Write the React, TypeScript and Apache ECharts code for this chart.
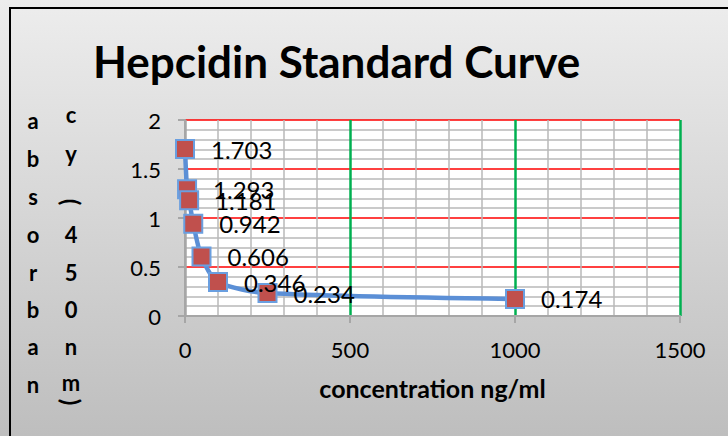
import React, { useEffect, useRef } from "react";
import * as echarts from "echarts";

const concentrations = [0, 6.25, 12.5, 25, 50, 100, 250, 1000];
const absorbances = [1.703, 1.293, 1.181, 0.942, 0.606, 0.346, 0.234, 0.174];
const titleText = "Hepcidin Standard Curve";
const xAxisName = "concentration ng/ml";
const yNameCol1 = ["a", "b", "s", "o", "r", "b", "a", "n"];
const yNameCol2 = ["c", "y", "(", "4", "5", "0", "n", "m", ")"];

const FONT = "Lato, 'Open Sans', sans-serif";

export default function App() {
  const ref = useRef<HTMLDivElement>(null);
  useEffect(() => {
    const chart = echarts.init(ref.current!, null, { renderer: "svg" });
    const col1Y = [120, 158, 196, 234, 272, 309, 346, 384];
    const col2Y = [114, 153, 202, 234, 272, 309, 346, 382, 402];
    const nameTexts: any[] = [];
    yNameCol1.forEach((ch, i) => {
      nameTexts.push({
        type: "text",
        x: 33,
        y: col1Y[i],
        style: { text: ch, font: `bold 22px ${FONT}`, fill: "#000", align: "center", verticalAlign: "middle" },
      });
    });
    yNameCol2.forEach((ch, i) => {
      const paren = ch === "(" || ch === ")";
      nameTexts.push({
        type: "text",
        x: 71,
        y: col2Y[i],
        rotation: paren ? -Math.PI / 2 : 0,
        style: { text: ch, font: `bold ${paren ? 24 : 22}px ${FONT}`, fill: "#000", align: "center", verticalAlign: "middle" },
      });
    });

    chart.setOption({
      animation: false,
      backgroundColor: {
        type: "linear",
        x: 0, y: 0, x2: 0, y2: 1,
        colorStops: [
          { offset: 0, color: "#ededed" },
          { offset: 1, color: "#bebebe" },
        ],
      },
      title: {
        text: titleText,
        left: 88,
        top: 34,
        textStyle: { fontFamily: FONT, fontWeight: "bold", fontSize: 44, color: "#000" },
      },
      grid: {
        left: 185,
        right: 48,
        top: 120,
        bottom: 120,
        show: true,
        backgroundColor: "#ffffff",
        borderWidth: 0,
      },
      graphic: [
        {
          type: "rect",
          shape: { x: 10, y: 8, width: 800, height: 500 },
          style: { fill: "none", stroke: "#000", lineWidth: 2 },
          z: 100,
        },
        ...nameTexts,
      ],
      xAxis: {
        type: "value",
        min: 0,
        max: 1500,
        interval: 500,
        name: xAxisName,
        nameLocation: "middle",
        nameGap: 59,
        nameTextStyle: { fontFamily: FONT, fontWeight: "bold", fontSize: 25, color: "#000" },
        axisLine: { show: true, lineStyle: { color: "#a6a6a6", width: 2 } },
        axisTick: { show: true, length: 7, lineStyle: { color: "#a6a6a6", width: 2 } },
        axisLabel: {
          fontFamily: FONT,
          fontSize: 22,
          color: "#000",
          margin: 22,
          formatter: (v: number) => String(v),
        },
        splitLine: {
          show: true,
          lineStyle: { color: ["#a6a6a6", "#00b050", "#00b050", "#00b050"], width: 2.5 },
        },
        minorTick: { show: false, splitNumber: 5 },
        minorSplitLine: { show: true, lineStyle: { color: "#b8b8b8", width: 1.5 } },
      },
      yAxis: {
        type: "value",
        min: 0,
        max: 2,
        interval: 0.5,
        axisLine: { show: true, lineStyle: { color: "#a6a6a6", width: 2 } },
        axisTick: { show: true, length: 7, lineStyle: { color: "#a6a6a6", width: 2 } },
        axisLabel: {
          fontFamily: FONT,
          fontSize: 22,
          color: "#000",
          margin: 24,
          formatter: (v: number) => String(v),
        },
        splitLine: {
          show: true,
          lineStyle: { color: ["#a6a6a6", "#ff0000", "#ff0000", "#ff0000", "#ff0000"], width: 1.5 },
        },
        minorTick: { show: false, splitNumber: 5 },
        minorSplitLine: { show: true, lineStyle: { color: "#b8b8b8", width: 1.5 } },
      },
      series: [
        {
          type: "line",
          data: concentrations.map((c, i) => [c, absorbances[i]]),
          smooth: 0.25,
          symbol: "rect",
          symbolSize: 18,
          lineStyle: { color: "#5b8fd6", width: 4.5 },
          itemStyle: { color: "#c0504d", borderColor: "#6a9fe0", borderWidth: 2 },
          label: {
            show: true,
            position: "right",
            distance: 16,
            fontFamily: FONT,
            fontSize: 24,
            color: "#000",
            formatter: (p: any) => String(p.value[1]),
          },
          z: 5,
        },
      ],
    });
    return () => chart.dispose();
  }, []);
  return (
    <div
      ref={ref}
      style={{ position: "absolute", left: 0, top: 0, width: 728, height: 436 }}
    />
  );
}
